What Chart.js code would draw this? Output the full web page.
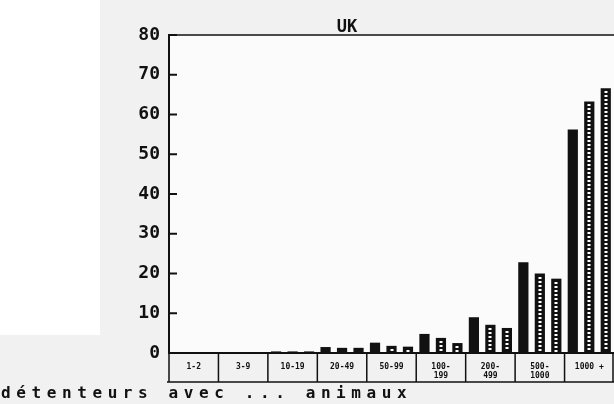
<!DOCTYPE html>
<html>
<head>
<meta charset="utf-8">
<script src="https://cdn.jsdelivr.net/npm/chart.js@4.4.0/dist/chart.umd.min.js"></script>
<style>
  html, body { margin: 0; padding: 0; background: #f1f1f1; }
  #cadre { position: relative; width: 614px; height: 404px; overflow: hidden; }
  #legende {
    position: absolute; left: 1px; top: 384px;
    font: bold 16px "DejaVu Sans Mono", monospace; letter-spacing: 5.6px;
    color: #111; line-height: 18px; white-space: nowrap;
  }
</style>
</head>
<body>
<div id="cadre">
  <canvas id="graficoUK" width="614" height="404"></canvas>
  <div id="legende">détenteurs avec ... animaux</div>
</div>
<script>
// catégories de taille de cheptel
const categories = ['1-2', '3-9', '10-19', '20-49', '50-99', ['100-', '199'], ['200-', '499'], ['500-', '1000'], '1000 +'];
// trois séries (%)
const serie1 = [0.1, 0.2, 0.4, 1.5, 2.6, 4.8, 9.0, 22.8, 56.2];
const serie2 = [0.1, 0.2, 0.4, 1.3, 1.8, 3.8, 7.1, 20.0, 63.3];
const serie3 = [0.1, 0.2, 0.4, 1.3, 1.6, 2.5, 6.3, 18.7, 66.6];
const titre = 'UK';
const yMin = 0, yMax = 80, yPas = 10;

const noir = '#111';

// fond "papier" + cadre du graphique
const fondPlugin = {
  id: 'fond',
  beforeDraw(chart) {
    const ctx = chart.ctx, a = chart.chartArea;
    ctx.save();
    ctx.fillStyle = '#f1f1f1';
    ctx.fillRect(0, 0, chart.width, chart.height);
    ctx.fillStyle = '#ffffff';
    ctx.fillRect(0, 0, 100, 335);
    ctx.fillStyle = '#fbfbfb';
    ctx.fillRect(a.left, a.top, a.right - a.left, a.bottom - a.top);
    ctx.restore();
  }
};

// points blancs dans les barres hachurées, ticks intérieurs, cases des catégories, titre
const decorPlugin = {
  id: 'decor',
  afterDatasetsDraw(chart) {
    const ctx = chart.ctx;
    ctx.save();
    ctx.fillStyle = '#fff';
    [1, 2].forEach(d => {
      chart.getDatasetMeta(d).data.forEach(bar => {
        const h = bar.base - bar.y;
        if (h < 5) return;
        for (let y = bar.y + 3; y < bar.base - 2; y += 4) {
          ctx.fillRect(Math.round(bar.x) - 1.5, Math.round(y), 3, 2);
        }
      });
    });
    ctx.restore();
  },
  afterDraw(chart) {
    const ctx = chart.ctx, a = chart.chartArea;
    const xs = chart.scales.x, ys = chart.scales.y;
    ctx.save();
    ctx.strokeStyle = noir;
    // ligne du haut
    ctx.lineWidth = 1.5;
    ctx.beginPath();
    ctx.moveTo(a.left, a.top);
    ctx.lineTo(a.right, a.top);
    ctx.stroke();
    // ticks vers l'intérieur
    ctx.lineWidth = 2;
    ys.ticks.forEach(t => {
      const y = ys.getPixelForValue(t.value);
      ctx.beginPath();
      ctx.moveTo(a.left, y);
      ctx.lineTo(a.left + 8, y);
      ctx.stroke();
    });
    // cases des étiquettes
    const bas = a.bottom + 29;
    ctx.lineWidth = 1.5;
    ctx.beginPath();
    ctx.moveTo(a.left - 2, bas);
    ctx.lineTo(a.right, bas);
    for (let i = 0; i <= categories.length; i++) {
      const x = Math.min(xs.getPixelForValue(i - 0.5), a.right - 1);
      ctx.moveTo(x, a.bottom);
      ctx.lineTo(x, bas);
    }
    ctx.stroke();
    // titre
    ctx.fillStyle = noir;
    ctx.font = 'bold 17px "DejaVu Sans Mono"';
    ctx.textAlign = 'center';
    ctx.textBaseline = 'bottom';
    ctx.fillText(titre, 347, a.top + 1);
    ctx.restore();
  }
};

new Chart(document.getElementById('graficoUK'), {
  type: 'bar',
  data: {
    labels: categories,
    datasets: [
      { label: 'série 1', data: serie1, backgroundColor: noir },
      { label: 'série 2', data: serie2, backgroundColor: noir },
      { label: 'série 3', data: serie3, backgroundColor: noir }
    ]
  },
  options: {
    responsive: false,
    devicePixelRatio: 1,
    animation: false,
    layout: { padding: { top: 35, left: 0, right: 0, bottom: 0 } },
    datasets: { bar: { categoryPercentage: 1.0, barPercentage: 0.62, borderWidth: 0 } },
    plugins: {
      legend: { display: false },
      title: { display: false },
      tooltip: { enabled: false }
    },
    scales: {
      x: {
        offset: true,
        grid: { display: false },
        border: { display: true, color: noir, width: 2 },
        ticks: {
          color: noir,
          font: { family: 'DejaVu Sans Mono', size: 8, weight: 'bold', lineHeight: 1.1 },
          padding: 2,
          maxRotation: 0,
          autoSkip: false
        },
        afterFit(s) { s.height = 51; }
      },
      y: {
        min: yMin,
        max: yMax,
        grid: { drawOnChartArea: false, drawTicks: false },
        border: { display: true, color: noir, width: 2 },
        ticks: {
          stepSize: yPas,
          color: noir,
          padding: 9,
          font: { family: 'DejaVu Sans Mono', size: 18, weight: 'bold' }
        },
        afterFit(s) { s.width = 169; }
      }
    }
  },
  plugins: [fondPlugin, decorPlugin]
});
</script>
</body>
</html>
